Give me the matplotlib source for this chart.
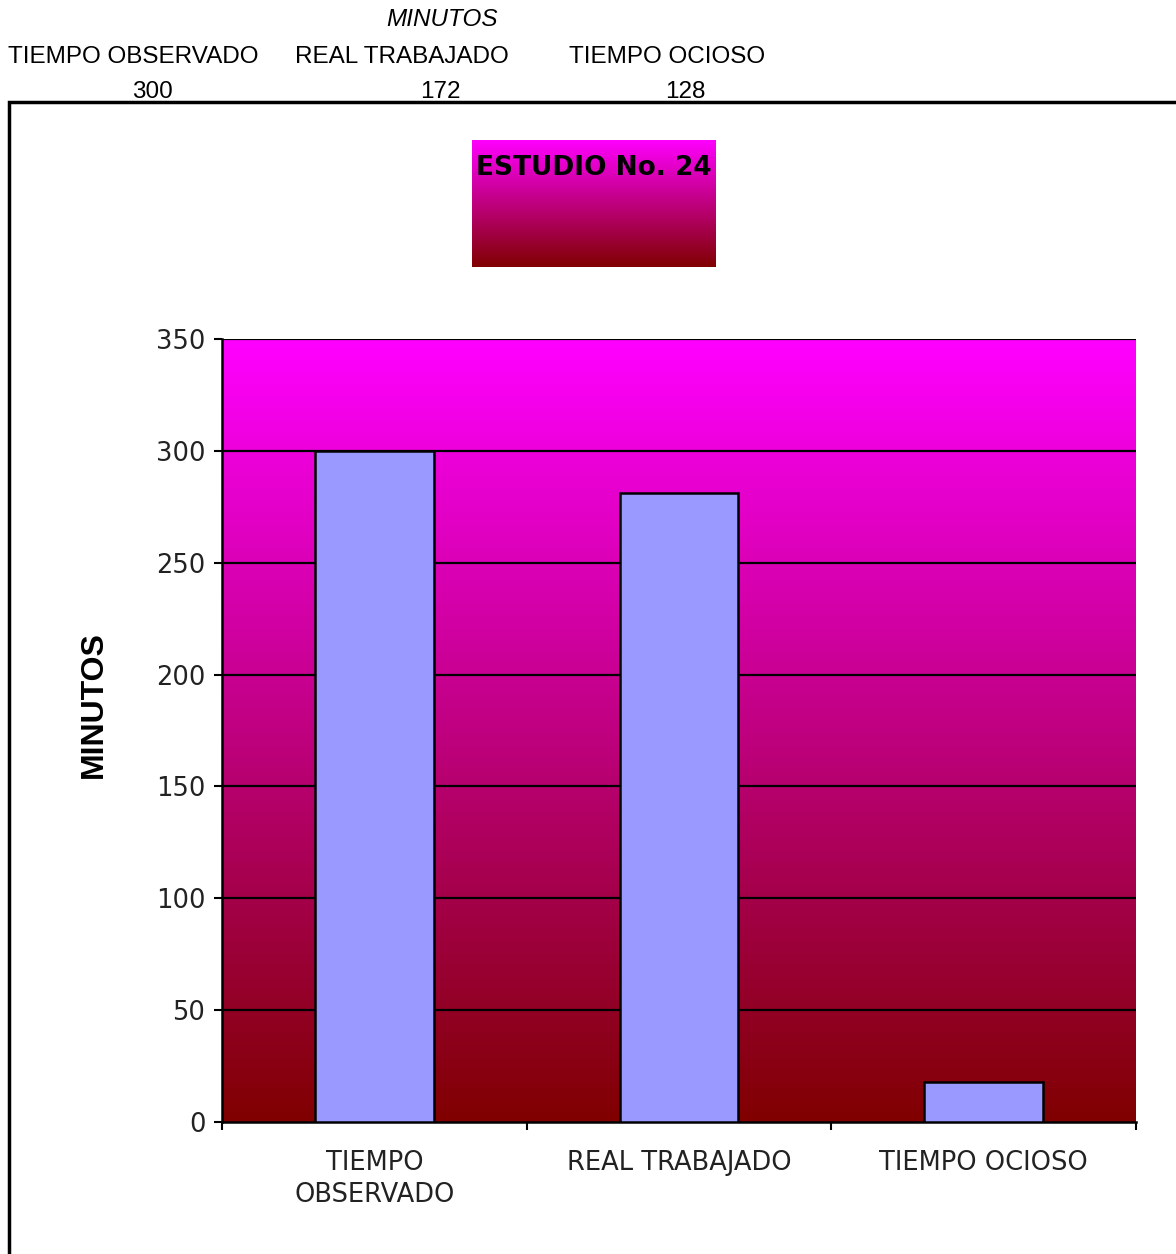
import numpy as np
import matplotlib
matplotlib.use("Agg")
import matplotlib.pyplot as plt
from matplotlib.patches import Rectangle

# datos del estudio
categorias = ["TIEMPO\nOBSERVADO", "REAL TRABAJADO", "TIEMPO OCIOSO"]
minutos = [300, 281, 18]
encabezados = ["TIEMPO OBSERVADO", "REAL TRABAJADO", "TIEMPO OCIOSO"]
valores_tabla = [300, 172, 128]
titulo = "ESTUDIO No. 24"


def degradado(n=256):
    # magenta arriba, granate abajo
    top = np.array([255, 0, 255]) / 255.0
    bot = np.array([128, 0, 0]) / 255.0
    t = np.linspace(0, 1, n)[:, None]
    col = top * (1 - t) + bot * t
    return col[:, None, :]


W, H = 1176, 1254
fig = plt.figure(figsize=(W / 100, H / 100), dpi=100)
fig.patch.set_facecolor("white")

# tabla de encima del grafico
fig.text(442 / W, 1 - 19 / H, "MINUTOS", ha="center", va="center",
         fontsize=17.5, style="italic", family="Liberation Sans")
for x, txt in zip([133, 402, 667], encabezados):
    fig.text(x / W, 1 - 57 / H, txt, ha="center", va="center",
             fontsize=17.5, family="Liberation Sans")
for x, v in zip([152, 440, 685], valores_tabla):
    fig.text(x / W, 1 - 92 / H, str(v), ha="center", va="center",
             fontsize=17.5, family="Liberation Sans")

# marco del area del grafico
fig.patches.append(Rectangle((9 / W, -0.05), 1.1, 1 - 102 / H + 0.05,
                             transform=fig.transFigure, fill=False,
                             edgecolor="black", linewidth=2.5))

# caja del titulo
tax = fig.add_axes([472 / W, 1 - 267 / H, 244 / W, 127 / H])
tax.imshow(degradado(), extent=[0, 1, 0, 1], aspect="auto")
tax.set_xlim(0, 1)
tax.set_ylim(0, 1)
tax.axis("off")
tax.text(0.5, 0.78, titulo, ha="center", va="center", fontsize=19,
         fontweight="bold", family="DejaVu Sans", color="black")

# grafico de barras
ax = fig.add_axes([222 / W, 1 - 1122 / H, 914 / W, 783 / H])
ax.imshow(degradado(), extent=[0, 1, 0, 1], transform=ax.transAxes,
          aspect="auto", zorder=0)
x = np.arange(len(categorias))
ax.bar(x, minutos, width=0.39, color="#9999FF", edgecolor="black",
       linewidth=1.8, zorder=3)
ax.set_xlim(-0.5, len(categorias) - 0.5)
ax.set_ylim(0, 350)
ax.set_yticks(np.arange(0, 351, 50))
for y in np.arange(50, 351, 50):
    ax.axhline(y, color="black", linewidth=1.6, zorder=2)

ax.set_xticks(x)
ax.set_xticklabels(categorias, fontsize=18.5, family="DejaVu Sans",
                   linespacing=1.3, color="#222222")
ax.set_xticks(np.arange(-0.5, len(categorias)), minor=True)
ax.tick_params(axis="x", which="major", length=0, pad=20)
ax.tick_params(axis="x", which="minor", length=6, width=1.5, direction="out")
ax.tick_params(axis="y", length=6, width=1.5, pad=6, labelsize=18.5,
               labelcolor="#222222")
for lab in ax.get_yticklabels():
    lab.set_family("DejaVu Sans")

for s in ["top", "right"]:
    ax.spines[s].set_visible(False)
ax.spines["left"].set_linewidth(1.8)
ax.spines["bottom"].set_linewidth(1.8)

fig.text(94 / W, 1 - 705 / H, "MINUTOS", rotation=90, ha="center",
         va="center", fontsize=23, fontweight="bold", family="Liberation Sans")

fig.savefig("out.png", dpi=100)
